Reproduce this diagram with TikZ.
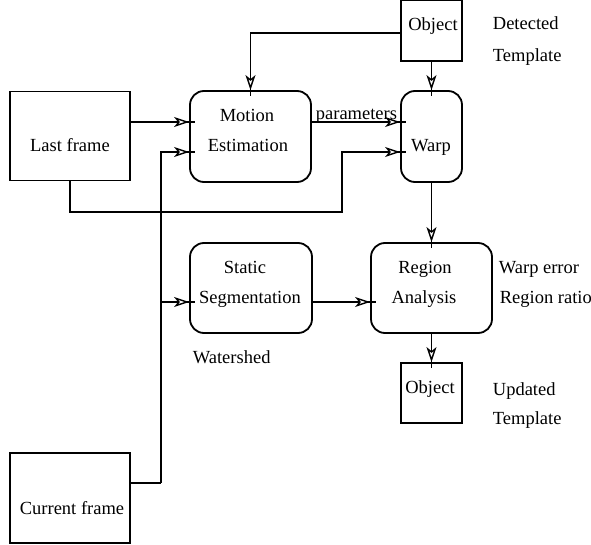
\documentclass[tikz,border=0pt]{standalone}
\usepackage{fontspec}
\setmainfont{Liberation Serif}
\usetikzlibrary{arrows.meta,decorations.markings}
\begin{document}
\begin{tikzpicture}[x=1pt,y=-1pt, line width=1.8pt,
  sqbox/.style={draw, rectangle, inner sep=0pt},
  rbox/.style={draw, rectangle, rounded corners=14pt, inner sep=0pt},
  txt/.style={font=\fontsize{18.5}{20}\selectfont, inner sep=0pt},
  conn/.style={line join=miter},
  arrowtick/.style={conn, postaction={decorate}, decoration={markings, mark=at position -6pt with {\arrow{Stealth[open,length=15pt,width=10pt,inset=4pt,line width=1.4pt,fill=white]}}}}
]
\useasboundingbox (0,0) rectangle (591,545);

% boxes
\node[sqbox, minimum width=120pt, minimum height=89pt] (lastf) at (70,136) {};
\node[sqbox, minimum width=120pt, minimum height=90pt] (curf) at (70,498) {};
\node[sqbox, minimum width=61pt, minimum height=61pt] (objt) at (431.5,30.5) {};
\node[rbox, minimum width=121pt, minimum height=91pt] (motion) at (250.5,136.5) {};
\node[rbox, minimum width=61pt, minimum height=91pt] (warp) at (431.5,136.5) {};
\node[rbox, minimum width=122pt, minimum height=90pt] (stat) at (251,288) {};
\node[rbox, minimum width=121pt, minimum height=90pt] (region) at (431.5,288) {};
\node[sqbox, minimum width=61pt, minimum height=60pt] (objb) at (431.5,393) {};

% texts
\node[txt, anchor=base] (tlast) at (70,152) {Last frame};
\node[txt, anchor=base] (tcur) at (72,514) {Current frame};
\node[txt, anchor=base] (tobjt) at (433,31) {Object};
\node[txt, anchor=base] (tmot1) at (247,122) {Motion};
\node[txt, anchor=base] (tmot2) at (248,152) {Estimation};
\node[txt, anchor=base] (twarp) at (431,152) {Warp};
\node[txt, anchor=base west] (tparam) at (315,120) {parameters};
\node[txt, anchor=base west] (tdet) at (492,30) {Detected};
\node[txt, anchor=base west] (ttpl1) at (492,62) {Template};
\node[txt, anchor=base] (tstat1) at (245,273) {Static};
\node[txt, anchor=base] (tstat2) at (250,303) {Segmentation};
\node[txt, anchor=base] (treg1) at (425,273) {Region};
\node[txt, anchor=base] (treg2) at (424,303) {Analysis};
\node[txt, anchor=base west] (twe) at (498,273) {Warp error};
\node[txt, anchor=base west] (trr) at (499,303) {Region ratio};
\node[txt, anchor=base west] (twat) at (192,363) {Watershed};
\node[txt, anchor=base] (tobjb) at (430,393) {Object};
\node[txt, anchor=base west] (tupd) at (492,395) {Updated};
\node[txt, anchor=base west] (ttpl2) at (492,424) {Template};

% helper coordinates
\coordinate (yA) at (0,122);
\coordinate (yB) at (0,152);
\coordinate (yC) at (0,302);
\coordinate (yT) at (0,33);
\coordinate (bus) at (161,483);
\coordinate (loopA) at (70,212);
\coordinate (loopB) at (342,212);

% connectors
\draw[arrowtick] (objt.west |- yT) -| ([yshift=-6pt]motion.north);
\draw[arrowtick] (objt.south) -- ([yshift=-6pt]warp.north);
\draw[arrowtick] (motion.east |- yA) -- ([xshift=6pt]warp.west |- yA);
\draw[arrowtick] (lastf.east |- yA) -- ([xshift=6pt]motion.west |- yA);
\draw[conn] (curf.east |- bus) -- (bus);
\draw[arrowtick] (bus) -- (bus |- yB) -- ([xshift=6pt]motion.west |- yB);
\draw[arrowtick] (bus |- yC) -- ([xshift=6pt]stat.west |- yC);
\draw[arrowtick] (lastf.south) -- (loopA) -- (loopB) -- (loopB |- yB) -- ([xshift=6pt]warp.west |- yB);
\draw[arrowtick] (warp.south) -- ([yshift=-6pt]region.north);
\draw[arrowtick] (stat.east |- yC) -- ([xshift=6pt]region.west |- yC);
\draw[arrowtick] (region.south) -- ([yshift=-6pt]objb.north);
\end{tikzpicture}
\end{document}
